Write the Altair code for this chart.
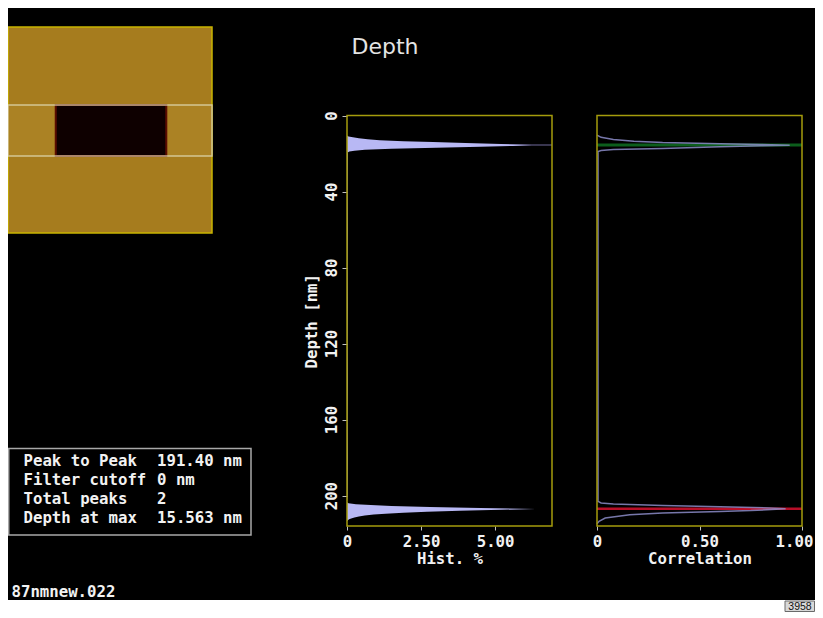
import altair as alt
import pandas as pd

# ---------------- data ----------------
hist_depth = [10.5, 11.0, 11.5, 12.0, 12.5, 13.0, 13.5, 14.0, 14.5, 15.0, 15.5, 16.0, 16.5,
              17.0, 17.5, 18.0, 18.5, 19.0, 19.5,
              20, 40, 60, 80, 100, 120, 140, 160, 180, 200,
              203.5, 204.0, 204.5, 205.0, 205.5, 206.0, 206.5, 207.0, 207.5, 208.0, 208.5,
              209.0, 209.5, 210.0, 210.5, 211.0, 211.5, 212.0, 212.5, 213.0, 213.5]
hist_pct = [0.0, 0.05, 0.2, 0.4, 0.7, 1.1, 1.9, 2.9, 4.0, 5.2, 6.24, 5.6, 4.5,
            3.0, 1.5, 0.6, 0.25, 0.08, 0.02,
            0.03, 0.02, 0.03, 0.02, 0.03, 0.02, 0.03, 0.02, 0.03, 0.02,
            0.0, 0.05, 0.3, 0.8, 1.5, 2.8, 4.5, 6.36, 5.2, 3.8, 2.7,
            1.9, 1.3, 0.9, 0.6, 0.4, 0.25, 0.14, 0.07, 0.03, 0.01]

corr_value = [0.0, 0.02, 0.08, 0.18, 0.32, 0.6, 0.8, 0.94, 0.8, 0.6, 0.32, 0.08, 0.02, 0.005,
              0.005, 0.005, 0.005, 0.005,
              0.02, 0.08, 0.32, 0.6, 0.84, 0.92, 0.75, 0.6, 0.32, 0.16, 0.04, 0.01, 0.0]
corr_depth = [10.3, 11.5, 12.6, 13.5, 14.2, 14.8, 15.2, 15.6, 15.9, 16.5, 17.3, 17.9, 18.4, 19.0,
              60, 120, 180, 203.0,
              203.9, 204.4, 205.2, 205.9, 206.5, 206.9, 207.9, 208.4, 209.2, 210.1, 211.8, 213.5, 214.8]

peak_depths = [15.563, 206.963]
depth_domain = [0, 216]
hist_domain = [0, 6.92]
corr_domain = [0, 1]
depth_ticks = [0, 40, 80, 120, 160, 200]
hist_ticks = [0, 2.5, 5.0]
corr_ticks = [0, 0.5, 1.0]

# AFM image (relative image units)
image_x = [0, 1]
image_y = [0, 1]
trench_x = [0.234, 0.776]
strip_y = [0.379, 0.626]

info_labels = ["Peak to Peak", "Filter cutoff", "Total peaks", "Depth at max"]
info_values = ["191.40 nm", "0 nm", "2", "15.563 nm"]
file_name = "87nmnew.022"
title_text = "Depth"
corner_text = "3958"

# ---------------- layout / style ----------------
W, H = 807, 592
HX = [339, 544]
CX = [589, 794]
PY = [107.5, 518]
IX = [0, 204]
IY = [19, 225]
FRAME = "#a59c0c"
MONO = "DejaVu Sans Mono"
FS = 15.7
WHITE = "#f2f2f2"


def axis_common(**kw):
    base = dict(labelFont=MONO, labelFontSize=FS, labelFontWeight="bold", labelColor=WHITE,
                titleFont=MONO, titleFontSize=FS, titleFontWeight="bold", titleColor=WHITE,
                tickColor="#c0c0c0", tickWidth=1, domain=False, grid=False,
                labelFlush=False, labelOverlap=False)
    base.update(kw)
    return alt.Axis(**base)


ysc = alt.Scale(domain=depth_domain, range=PY, nice=False, zero=False)
hxsc = alt.Scale(domain=hist_domain, range=HX, nice=False)
cxsc = alt.Scale(domain=corr_domain, range=CX, nice=False)

y_axis = axis_common(title="Depth [nm]", values=depth_ticks, orient="left", offset=-HX[0],
                     labelAngle=270, tickSize=5, labelPadding=3, titlePadding=4)
hx_axis = axis_common(title="Hist. %", values=hist_ticks, orient="bottom", offset=PY[1] - H,
                      labelExpr="datum.value == 0 ? '0' : format(datum.value, '.2f')",
                      tickSize=4, labelPadding=4, titlePadding=3)
cx_axis = axis_common(title="Correlation", values=corr_ticks, orient="bottom", offset=PY[1] - H,
                      labelExpr="datum.value == 0 ? '0' : format(datum.value, '.2f')",
                      labelOffset={"expr": "datum.value >= 1 ? -8 : 0"},
                      tickSize=4, labelPadding=4, titlePadding=3)

# ---------------- histogram panel ----------------
hist_df = pd.DataFrame({"depth": hist_depth, "pct": hist_pct})
frame_h = pd.DataFrame({"pct": [hist_domain[0]], "pct_end": [hist_domain[1]],
                        "depth": [depth_domain[0]], "depth_end": [depth_domain[1]]})
peak_h = pd.DataFrame({"depth": [peak_depths[0]], "pct": [hist_domain[0]], "pct_end": [hist_domain[1]]})

h_rule = alt.Chart(peak_h).mark_rule(color="#38354e", strokeWidth=2).encode(
    y=alt.Y("depth:Q", scale=ysc, axis=y_axis),
    x=alt.X("pct:Q", scale=hxsc, axis=hx_axis),
    x2="pct_end:Q",
)
h_area = alt.Chart(hist_df).mark_area(orient="horizontal", color="#b8b8f4", interpolate="linear").encode(
    y=alt.Y("depth:Q", scale=ysc, axis=y_axis),
    x=alt.X("pct:Q", scale=hxsc, axis=hx_axis, stack=None),
)
h_frame = alt.Chart(frame_h).mark_rect(fillOpacity=0, stroke=FRAME, strokeWidth=1.5).encode(
    y=alt.Y("depth:Q", scale=ysc, axis=y_axis),
    y2="depth_end:Q",
    x=alt.X("pct:Q", scale=hxsc, axis=hx_axis),
    x2="pct_end:Q",
)
hist_panel = alt.layer(h_rule, h_area, h_frame)

# ---------------- correlation panel ----------------
corr_df = pd.DataFrame({"c": corr_value, "depth": corr_depth, "i": list(range(len(corr_value)))})
frame_c = pd.DataFrame({"c": [corr_domain[0]], "c_end": [corr_domain[1]],
                        "depth": [depth_domain[0]], "depth_end": [depth_domain[1]]})
peak_c1 = pd.DataFrame({"depth": [peak_depths[0]], "c": [corr_domain[0]], "c_end": [corr_domain[1]]})
peak_c2 = pd.DataFrame({"depth": [peak_depths[1]], "c": [corr_domain[0]], "c_end": [corr_domain[1]]})

c_rule1 = alt.Chart(peak_c1).mark_rule(color="#0c5e1c", strokeWidth=3).encode(
    y=alt.Y("depth:Q", scale=ysc, axis=None),
    x=alt.X("c:Q", scale=cxsc, axis=cx_axis),
    x2="c_end:Q",
)
c_rule2 = alt.Chart(peak_c2).mark_rule(color="#b80e28", strokeWidth=2.5).encode(
    y=alt.Y("depth:Q", scale=ysc, axis=None),
    x=alt.X("c:Q", scale=cxsc, axis=cx_axis),
    x2="c_end:Q",
)
c_line = alt.Chart(corr_df).mark_line(color="#8c8cc8", strokeWidth=1.5, opacity=0.85).encode(
    y=alt.Y("depth:Q", scale=ysc, axis=None),
    x=alt.X("c:Q", scale=cxsc, axis=cx_axis),
    order="i:Q",
)
c_frame = alt.Chart(frame_c).mark_rect(fillOpacity=0, stroke=FRAME, strokeWidth=1.5).encode(
    y=alt.Y("depth:Q", scale=ysc, axis=None),
    y2="depth_end:Q",
    x=alt.X("c:Q", scale=cxsc, axis=cx_axis),
    x2="c_end:Q",
)
corr_panel = alt.layer(c_rule1, c_rule2, c_line, c_frame)

# ---------------- AFM image ----------------
isx = alt.Scale(domain=[0, 1], range=IX, nice=False)
isy = alt.Scale(domain=[0, 1], range=IY, nice=False)
img_df = pd.DataFrame({"x0": [image_x[0]], "x1": [image_x[1]], "y0": [image_y[0]], "y1": [image_y[1]]})
strip_df = pd.DataFrame({"x0": [image_x[0]], "x1": [image_x[1]], "y0": [strip_y[0]], "y1": [strip_y[1]]})
trench_df = pd.DataFrame({"x0": [trench_x[0]], "x1": [trench_x[1]], "y0": [strip_y[0]], "y1": [strip_y[1]]})


def img_rect(df, **mk):
    return alt.Chart(df).mark_rect(**mk).encode(
        x=alt.X("x0:Q", scale=isx, axis=None), x2="x1:Q",
        y=alt.Y("y0:Q", scale=isy, axis=None), y2="y1:Q",
    )


image_panel = alt.layer(
    img_rect(img_df, fill="#a67c1e", stroke="#c9b400", strokeWidth=1.5),
    img_rect(strip_df, fill="#ab8224"),
    img_rect(trench_df, fill="#0e0000", stroke="#5a0c00", strokeWidth=2),
    img_rect(strip_df, fillOpacity=0, stroke="#e0d8b0", strokeWidth=1.5, strokeOpacity=0.8),
)

# ---------------- texts ----------------
one = pd.DataFrame({"k": [0]})
title_mark = alt.Chart(one).mark_text(text=title_text, font="DejaVu Sans", fontSize=22, color="#e4e4e4",
                                      align="left", baseline="alphabetic").encode(
    x=alt.value(343.5), y=alt.value(45.5))
info_box = alt.Chart(one).mark_rect(fillOpacity=0, stroke="#a8a8a8", strokeWidth=1.5).encode(
    x=alt.value(0.75), x2=alt.value(243), y=alt.value(440.5), y2=alt.value(527))
info_lab = alt.Chart(one).mark_text(text=info_labels, font=MONO, fontSize=FS, fontWeight="bold",
                                    color=WHITE, align="left", baseline="alphabetic", lineHeight=19).encode(
    x=alt.value(15.5), y=alt.value(458))
info_val = alt.Chart(one).mark_text(text=info_values, font=MONO, fontSize=FS, fontWeight="bold",
                                    color=WHITE, align="left", baseline="alphabetic", lineHeight=19).encode(
    x=alt.value(149), y=alt.value(458))
fname = alt.Chart(one).mark_text(text=file_name, font=MONO, fontSize=FS, fontWeight="bold",
                                 color=WHITE, align="left", baseline="alphabetic").encode(
    x=alt.value(3.5), y=alt.value(588.5))
corner_box = alt.Chart(one).mark_rect(fill="#d8d8d8", stroke="#6a6a6a", strokeWidth=1).encode(
    x=alt.value(777), x2=alt.value(806.5), y=alt.value(593), y2=alt.value(603.5))
corner_lab = alt.Chart(one).mark_text(text=corner_text, font="Liberation Sans", fontSize=10.5,
                                      color="#111111", align="center", baseline="middle").encode(
    x=alt.value(792), y=alt.value(598.5))

chart = alt.layer(
    image_panel, hist_panel, corr_panel,
    title_mark, info_box, info_lab, info_val, fname, corner_box, corner_lab,
).resolve_scale(x="independent", y="independent").properties(
    width=W, height=H,
    autosize=alt.AutoSizeParams(type="none"),
    padding={"left": 0, "top": 0, "right": 0, "bottom": 12},
    background="white",
).configure_view(fill="black", stroke="black", strokeWidth=0)

chart.save("out.html", embed_options={"renderer": "svg", "actions": False})
